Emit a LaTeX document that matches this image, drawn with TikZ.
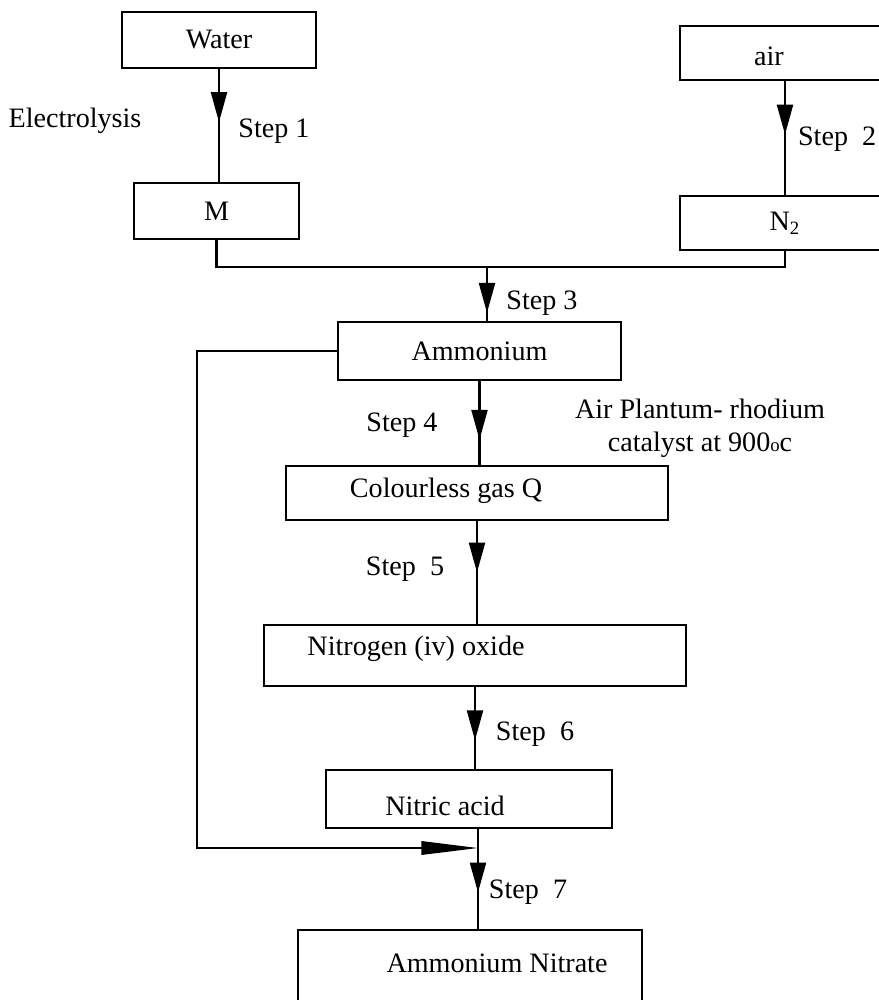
\documentclass[tikz,border=0pt]{standalone}
\usepackage{fontspec}
\setmainfont{Liberation Serif}
\usetikzlibrary{arrows.meta,decorations.markings}

\begin{document}
\begin{tikzpicture}[
        x=0.015cm, y=-0.015cm,
        font=\fontsize{12}{14}\selectfont,
        box/.style={draw, rectangle, line width=0.9pt, inner sep=0pt},
        link/.style={line width=1pt},
        flow/.style={line width=1pt, postaction={decorate},
            decoration={markings, mark=at position #1 with {\arrow{Triangle[length=0.45cm, width=0.24cm]}}}},
        feed/.style={line width=1pt, -{Triangle[length=0.85cm, width=0.2cm]}}
    ]
    \useasboundingbox (0,0) rectangle (879,1000);

    % Boxes at explicit coordinates
    \node[box, minimum width=2.91cm, minimum height=0.84cm] (water) at (219,40) {Water};
    \node[box, minimum width=2.475cm, minimum height=0.84cm] (m) at (216.5,211) {M};
    \node[box, minimum width=3.15cm, minimum height=0.81cm] (air) at (785,53) {};
    \node (airtext) at (769,56) {air};
    \node[box, minimum width=3.15cm, minimum height=0.81cm] (n2) at (785,223) {N\textsubscript{2}};
    \node[box, minimum width=4.245cm, minimum height=0.87cm] (ammonium) at (479.5,351) {Ammonium};
    \node[box, minimum width=5.73cm, minimum height=0.81cm] (gasq) at (477,493) {};
    \node (gasqtext) at (446,491) {Colourless gas Q};
    \node[box, minimum width=6.33cm, minimum height=0.915cm] (nitro) at (475,655.5) {};
    \node (nitrotext) at (416,649) {Nitrogen (iv) oxide};
    \node[box, minimum width=4.29cm, minimum height=0.87cm] (nitric) at (469,799) {};
    \node (nitrictext) at (445,806) {Nitric acid};
    \node[box, minimum width=5.16cm, minimum height=1.2cm] (ammnit) at (470,970) {};
    \node (ammnittext) at (497,963) {Ammonium Nitrate};

    % Step labels
    \node (electro) at (75,121) {Electrolysis};
    \node (step1) at (274,131) {Step 1};
    \node[anchor=east, inner xsep=1pt] (step2) at (879,139) {Step~~2};
    \node (step3) at (542,303) {Step 3};
    \node (step4) at (402,425) {Step 4};
    \node[align=center] (catalyst) at (700,428) {Air Plantum- rhodium\\catalyst at 900{\footnotesize o}c};
    \node (step5) at (405,569) {Step~~5};
    \node (step6) at (535,734) {Step~~6};
    \node (step7) at (528,892) {Step~~7};

    \coordinate (join) at (487,267);
    \coordinate (merge) at (478,848);

    % Top branches
    \draw[flow=0.47] (water.south) -- (water.south |- m.north);
    \draw[flow=0.47] (air.south) -- (n2.north);
    \draw[link] (m.south) |- (join) -| (n2.south);
    \draw[flow=0.85] (join) -- (join |- ammonium.north);

    % Main column
    \draw[flow=0.70] (ammonium.south) -- (ammonium.south |- gasq.north);
    \draw[flow=0.50] (gasq.south) -- (gasq.south |- nitro.north);
    \draw[flow=0.65] (nitro.south) -- (nitro.south |- nitric.north);
    \draw[link] (merge |- nitric.south) -- (merge);
    \draw[flow=0.55] (merge) -- (merge |- ammnit.north);

    % Ammonium fed back
    \draw[feed] (ammonium.west) -- ++(-140,0) |- (merge);

\end{tikzpicture}
\end{document}
